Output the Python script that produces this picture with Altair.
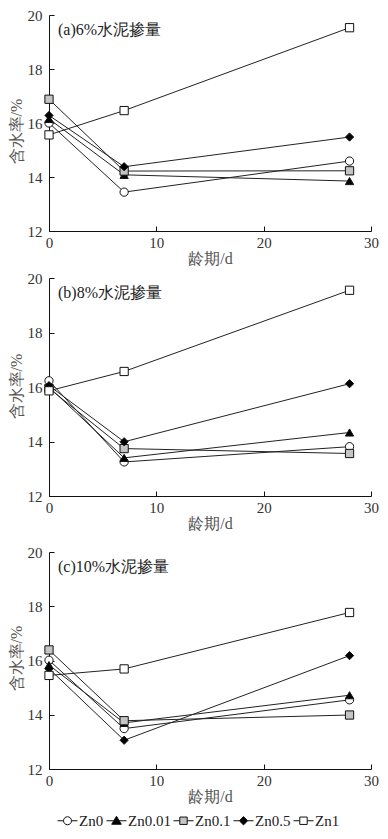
import altair as alt
import pandas as pd

days = [0, 7, 28]
series = ["Zn0", "Zn0.01", "Zn0.1", "Zn0.5", "Zn1"]
panel_labels = ["(a)6%水泥掺量", "(b)8%水泥掺量", "(c)10%水泥掺量"]

# panel (a) 6% cement
a_zn0 = [16.00, 13.44, 14.59]
a_zn001 = [16.15, 14.08, 13.85]
a_zn01 = [16.88, 14.22, 14.23]
a_zn05 = [16.28, 14.38, 15.48]
a_zn1 = [15.56, 16.46, 19.53]

# panel (b) 8% cement
b_zn0 = [16.23, 13.25, 13.81]
b_zn001 = [16.00, 13.40, 14.33]
b_zn01 = [15.95, 13.74, 13.56]
b_zn05 = [16.05, 13.99, 16.12]
b_zn1 = [15.86, 16.57, 19.55]

# panel (c) 10% cement
c_zn0 = [16.01, 13.49, 14.55]
c_zn001 = [15.83, 13.70, 14.72]
c_zn01 = [16.39, 13.78, 13.99]
c_zn05 = [15.70, 13.06, 16.18]
c_zn1 = [15.45, 15.69, 17.77]

x_ticks = [0, 10, 20, 30]
y_ticks = [12, 14, 16, 18, 20]

shapes = ["circle", "triangle-up", "square", "diamond", "square"]
fills = ["white", "black", "#c4c4c4", "black", "white"]
strokes = ["#111", "#111", "#111", "#111", "#111"]
legend_paths = [
    "M-1,0H-0.4M0.4,0H1M-0.4,0A0.4,0.4,0,1,1,0.4,0A0.4,0.4,0,1,1,-0.4,0Z",
    "M-1,0H1M0,-0.45L0.48,0.35L-0.48,0.35Z",
    "M-1,0H-0.37M0.37,0H1M-0.37,-0.37H0.37V0.37H-0.37Z",
    "M-1,0H-0.42M0.42,0H1M0,-0.42L0.42,0L0,0.42L-0.42,0Z",
    "M-1,0H-0.37M0.37,0H1M-0.37,-0.37H0.37V0.37H-0.37Z",
]

FONT = "Liberation Serif"
W = 322


def panel(cols, label, height, title_y):
    rows = []
    for s, vals in zip(series, cols):
        for d, v in zip(days, vals):
            rows.append({"series": s, "day": d, "val": v})
    df = pd.DataFrame(rows)
    base = alt.Chart(df)
    xs = alt.Scale(domain=[0, 30], nice=False, zero=False)
    ys = alt.Scale(domain=[12, 20], nice=False, zero=False)
    lines = base.mark_line(color="#222", strokeWidth=1).encode(
        x=alt.X("day:Q", scale=xs, axis=alt.Axis(
            orient="bottom", values=x_ticks, ticks=False, tickSize=0, grid=False,
            labelFlush=False, title="龄期/d", labelPadding=4, titlePadding=0)),
        y=alt.Y("val:Q", scale=ys, axis=alt.Axis(
            orient="left", values=y_ticks, ticks=False, tickSize=0, grid=False,
            title="含水率/%", labelPadding=7, titlePadding=3, titleY=title_y)),
        detail="series:N",
    )
    pts = base.mark_point(filled=True, stroke="#111", strokeWidth=1, size=68, opacity=1).encode(
        x=alt.X("day:Q", scale=xs, axis=alt.Axis(
            orient="bottom", values=x_ticks, offset=-5, tickSize=5, domain=False,
            labels=False, title=None, grid=False)),
        y=alt.Y("val:Q", scale=ys, axis=alt.Axis(
            orient="left", values=y_ticks, offset=-5, tickSize=5, domain=False,
            labels=False, title=None, grid=False)),
        shape=alt.Shape("series:N", scale=alt.Scale(domain=series, range=shapes), legend=None),
        fill=alt.Fill("series:N", scale=alt.Scale(domain=series, range=fills), legend=None),
    )
    txt = alt.Chart(pd.DataFrame({"t": [label]})).mark_text(
        align="left", baseline="middle", font=FONT, fontSize=16, color="#222"
    ).encode(text="t:N", x=alt.value(9), y=alt.value(15))
    return alt.layer(lines, pts, txt).resolve_axis(
        x="independent", y="independent").properties(width=W, height=height)


pa = panel([a_zn0, a_zn001, a_zn01, a_zn05, a_zn1], panel_labels[0], 216, 116)
pb = panel([b_zn0, b_zn001, b_zn01, b_zn05, b_zn1], panel_labels[1], 218, 108)
pc = panel([c_zn0, c_zn001, c_zn01, c_zn05, c_zn1], panel_labels[2], 217, 106)

leg_legend = alt.Legend(
    orient="none", legendX=8, legendY=0, direction="horizontal", title=None,
    symbolSize=400, symbolStrokeWidth=1, gridAlign="each",
    labelFont=FONT, labelFontSize=15, labelColor="#222", labelOffset=1,
    columnPadding=0, symbolOpacity=1,
)
leg = alt.Chart(pd.DataFrame({"series": series})).transform_filter("false").mark_point(
    filled=False, strokeWidth=1
).encode(
    shape=alt.Shape("series:N", scale=alt.Scale(domain=series, range=legend_paths), legend=leg_legend),
    fill=alt.Fill("series:N", scale=alt.Scale(domain=series, range=fills), legend=leg_legend),
    stroke=alt.Stroke("series:N", scale=alt.Scale(domain=series, range=strokes), legend=leg_legend),
).properties(width=W, height=20)

top = alt.vconcat(pa, pb, spacing=5).resolve_scale(
    shape="independent", fill="independent", stroke="independent")
bottom = alt.vconcat(pc, leg, spacing=6).resolve_scale(
    shape="independent", fill="independent", stroke="independent")

chart = alt.vconcat(top, bottom, spacing=14).resolve_scale(
    shape="independent", fill="independent", stroke="independent"
).properties(
    padding={"left": 0, "top": 0, "right": 0, "bottom": 0},
    background="white",
).configure_view(stroke=None).configure_axis(
    labelFont=FONT, titleFont=FONT, labelFontSize=15, titleFontSize=16,
    labelColor="#333", titleColor="#555", titleFontWeight="normal",
    domainColor="#111", tickColor="#111", domainWidth=1, tickWidth=1,
)

chart.save("out.html", embed_options={"renderer": "svg", "actions": False})
